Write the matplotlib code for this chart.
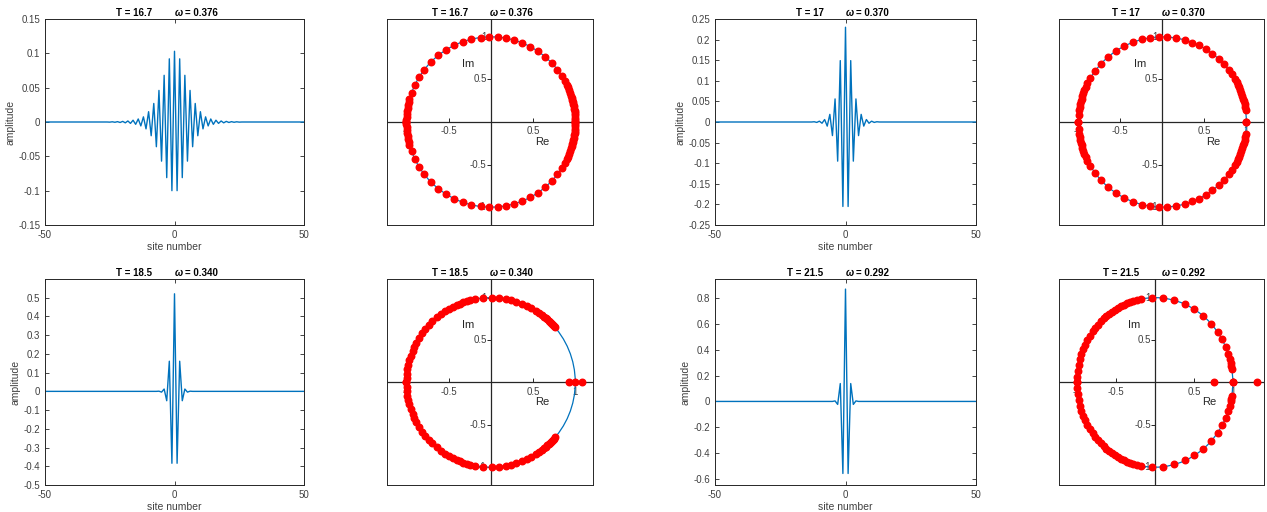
import numpy as np
import matplotlib
matplotlib.use('Agg')
import matplotlib.pyplot as plt
from matplotlib.patches import Circle

plt.rcParams['font.family'] = ['Liberation Sans', 'DejaVu Sans']

# ---------------- data ----------------
periods = ['16.7', '17', '18.5', '21.5']
omegas = ['0.376', '0.370', '0.340', '0.292']

site_min, site_max = -50, 50

# breather profiles: amplitude at site 0, +-1, +-2, ... (profile is even in site number)
profile_T167 = [0.103, -0.100, 0.092, -0.081, 0.068, -0.057, 0.046, -0.036, 0.027,
                -0.020, 0.015, -0.010, 0.0075, -0.0057, 0.0044, -0.0034, 0.0026,
                -0.0020, 0.0015, -0.0012, 0.0009, -0.0007, 0.0005, -0.0004, 0.0003,
                -0.0002]
profile_T17 = [0.230, -0.205, 0.149, -0.095, 0.056, -0.033, 0.0185, -0.010, 0.006,
               -0.003, 0.002, -0.001, 0.0006]
profile_T185 = [0.521, -0.384, 0.161, -0.050, 0.0125, -0.004, 0.001]
profile_T215 = [0.867, -0.556, 0.138, -0.023, 0.004]

# Floquet multipliers: angles (deg) of the multipliers on the upper unit half-circle
# (complex conjugates complete the lower half), plus real multipliers off the circle
angles_T167 = [0, 1.5, 3, 4.5, 6, 7.5, 9, 10.5, 12, 13.5, 15, 16.5, 18, 20, 22, 24, 26,
               28.5, 33, 38, 43.5, 50, 56, 62, 68, 74, 79.5, 85, 91, 97, 103.5, 109.5,
               116, 122, 128.5, 135.5, 142, 148, 154, 160, 164.5, 166.5, 168.5, 170.5,
               172.5, 174.5, 176.5, 178.5, 180]
angles_T17 = [0, 8, 10, 12, 14, 16, 18, 20, 22, 24, 26, 28, 30.5, 34, 38, 43, 47.5,
              53.5, 59, 64, 69, 74.5, 80.5, 86.5, 92.5, 98.5, 104, 110.5, 117, 123.5,
              130.5, 137, 143.5, 149, 153, 155.5, 158, 160, 162, 164, 166, 168, 170,
              172, 175, 180]
angles_T185 = [40.5, 41.5, 42.5, 43.5, 44.5, 45.5, 46.5, 48, 49.5, 51, 53, 55.5, 58,
               61.5, 65, 68.5, 72.5, 76, 80, 84.5, 89.5, 95, 100.5, 104, 106.5, 109,
               111.5, 114, 117, 120, 123, 126.5, 130, 134, 137.5, 141, 144.5, 148, 152,
               155, 158, 161.5, 165, 168, 171, 174, 177, 180]
angles_T215 = [0, 9, 11, 13, 16, 19.5, 24.5, 30.5, 36.5, 43.5, 52, 59.5, 67, 75.5, 84,
               92, 100, 103, 106, 108.5, 111, 113.5, 116, 118.5, 121, 123.5, 126, 128.5,
               131, 134, 137, 140, 143, 146.5, 150, 153.5, 157, 160.5, 164, 168, 172,
               176, 180]
real_T167 = []
real_T17 = []
real_T185 = [0.93, 1.0, 1.08]
real_T215 = [0.76, 1.31]

# y-axis settings of the profile panels
ylims = [(-0.15, 0.15), (-0.25, 0.25), (-0.5, 0.6), (-0.645, 0.945)]
yticks = [
    [-0.15, -0.1, -0.05, 0, 0.05, 0.1, 0.15],
    [-0.25, -0.2, -0.15, -0.1, -0.05, 0, 0.05, 0.1, 0.15, 0.2, 0.25],
    [-0.5, -0.4, -0.3, -0.2, -0.1, 0, 0.1, 0.2, 0.3, 0.4, 0.5],
    [-0.6, -0.4, -0.2, 0, 0.2, 0.4, 0.6, 0.8],
]
circle_xlims = [(-1.23, 1.21), (-1.23, 1.21), (-1.23, 1.21), (-1.23, 1.40)]
circle_ylims = [(-1.21, 1.21), (-1.21, 1.21), (-1.21, 1.22), (-1.21, 1.22)]

profiles = [profile_T167, profile_T17, profile_T185, profile_T215]
angle_sets = [angles_T167, angles_T17, angles_T185, angles_T215]
real_sets = [real_T167, real_T17, real_T185, real_T215]

# ---------------- figure ----------------
W, H = 1267, 512
fig = plt.figure(figsize=(W / 100, H / 100), dpi=100)

BLUE = '#0072BD'
AXC = '#262626'
TXT = '#404040'


def px_axes(left, top, right, bottom):
    return fig.add_axes([left / W, 1 - bottom / H, (right - left) / W, (bottom - top) / H])


def fmt(v):
    return f'{v:g}'


def add_title(ax, T, w):
    ax.annotate(f'T = {T}', xy=(0.5, 1.0), xycoords='axes fraction',
                xytext=(-22 * 0.72, 6.5 * 0.72), textcoords='offset points',
                ha='right', va='center', fontsize=7, fontweight='bold', color='black')
    ax.annotate('ω', xy=(0.5, 1.0), xycoords='axes fraction',
                xytext=(0, 6.5 * 0.72), textcoords='offset points',
                ha='left', va='center', fontsize=7, fontweight='bold',
                fontstyle='italic', color='black')
    ax.annotate(f'= {w}', xy=(0.5, 1.0), xycoords='axes fraction',
                xytext=(10.5 * 0.72, 6.5 * 0.72), textcoords='offset points',
                ha='left', va='center', fontsize=7, fontweight='bold', color='black')


rows = [(19, 225), (279, 485)]
line_cols = [(45, 304), (715, 976)]
circ_cols = [(387, 593), (1059, 1264)]

for k in range(4):
    r = k // 2
    c = k % 2
    top, bottom = rows[r]

    # ---- profile panel ----
    l, rr = line_cols[c]
    ax = px_axes(l, top, rr, bottom)
    prof = profiles[k]
    sites = np.arange(site_min, site_max + 1)
    amp = np.zeros(len(sites))
    for i, v in enumerate(prof):
        amp[sites == i] = v
        amp[sites == -i] = v
    ax.plot(sites, amp, color=BLUE, lw=1.0)
    ax.set_xlim(site_min, site_max)
    ax.set_xticks([-50, 0, 50])
    ax.set_xticklabels(['-50', '0', '50'])
    ax.set_ylim(*ylims[k])
    ax.set_yticks(yticks[k])
    ax.set_yticklabels([fmt(v) for v in yticks[k]])
    ax.tick_params(direction='in', top=True, right=True, length=3, width=0.6,
                   labelsize=7, pad=3.5, color=AXC, labelcolor=TXT)
    for sp in ax.spines.values():
        sp.set_color(AXC)
        sp.set_linewidth(0.7)
    ax.set_xlabel('site number', fontsize=7.5, color=TXT, labelpad=1.5)
    ax.set_ylabel('amplitude', fontsize=7.5, color=TXT, labelpad=2)
    add_title(ax, periods[k], omegas[k])

    # ---- Floquet multiplier panel ----
    l, rr = circ_cols[c]
    ax2 = px_axes(l, top, rr, bottom)
    ax2.set_xlim(*circle_xlims[k])
    ax2.set_ylim(*circle_ylims[k])
    ax2.set_xticks([])
    ax2.set_yticks([])
    for sp in ax2.spines.values():
        sp.set_color(AXC)
        sp.set_linewidth(0.7)
    ax2.axhline(0, color=AXC, lw=0.9, zorder=1)
    ax2.axvline(0, color=AXC, lw=0.9, zorder=1)
    # ticks on the axes through the origin
    for t in [-1, -0.5, 0.5, 1]:
        ax2.plot([t], [0], marker=2, color=AXC, ms=3, mew=0.7, zorder=1)
        ax2.plot([0], [t], marker=0, color=AXC, ms=3, mew=0.7, zorder=1)
        ax2.text(t, -0.05, fmt(t), ha='center', va='top', fontsize=7, color=TXT, zorder=1)
        ax2.text(-0.05, t, fmt(t), ha='right', va='center', fontsize=7, color=TXT, zorder=1)
    ax2.add_patch(Circle((0, 0), 1.0, fill=False, ec=BLUE, lw=0.9, zorder=2))
    ang = np.deg2rad(np.array(angle_sets[k], dtype=float))
    re = np.concatenate([np.cos(ang), np.cos(ang), np.array(real_sets[k], dtype=float)])
    im = np.concatenate([np.sin(ang), -np.sin(ang), np.zeros(len(real_sets[k]))])
    ax2.plot(re, im, 'o', color='red', ms=4.7, mec='red', zorder=3, clip_on=False)
    ax2.text(0.5 * circle_xlims[k][1], -0.23, 'Re', ha='center', va='center',
             fontsize=8, color=AXC, zorder=4)
    ax2.text(-0.27, 0.68, 'Im', ha='center', va='center', fontsize=8, color=AXC, zorder=4)
    add_title(ax2, periods[k], omegas[k])

fig.savefig('out.png', dpi=100)
